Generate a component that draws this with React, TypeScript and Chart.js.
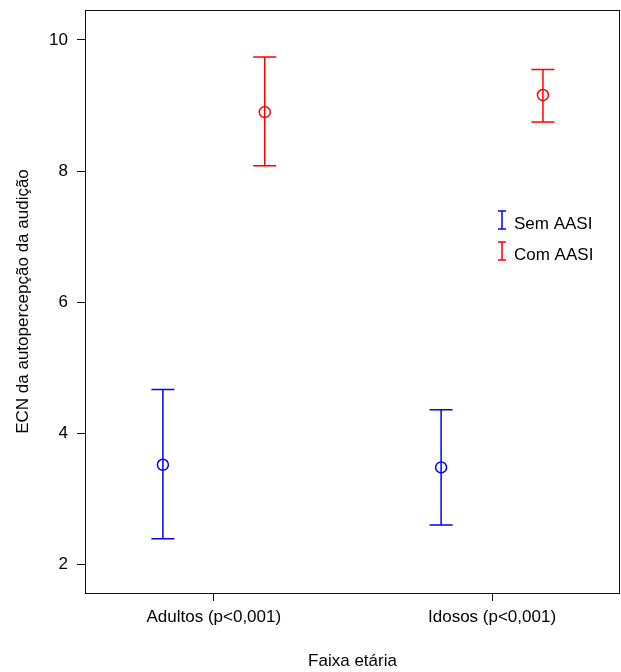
import React, { useEffect, useRef } from 'react';
import { Chart, registerables } from 'chart.js';

Chart.register(...registerables);

const categories = ['Adultos (p<0,001)', 'Idosos (p<0,001)'];
const seriesNames = ['Sem AASI', 'Com AASI'];
const semMean = [3.52, 3.48];
const semLow = [2.39, 2.6];
const semHigh = [4.67, 4.36];
const comMean = [8.9, 9.16];
const comLow = [8.08, 8.75];
const comHigh = [9.74, 9.55];
const yTicks = [2, 4, 6, 8, 10];
const yTitle = 'ECN da autopercepção da audição';
const xTitle = 'Faixa etária';

const BLUE = '#0000ff';
const RED = '#ff0000';
const FONT = "'Liberation Sans', Arial, sans-serif";
const GROUP_OFFSET = 0.183;
const CAP = 11.5;

const errorBarPlugin = {
  id: 'errorBars',
  beforeDatasetsDraw(chart: any) {
    const ctx = chart.ctx;
    const ys = chart.scales.y;
    chart.data.datasets.forEach((ds: any, di: number) => {
      const meta = chart.getDatasetMeta(di);
      ctx.save();
      ctx.strokeStyle = ds.borderColor;
      ctx.lineWidth = 1.5;
      meta.data.forEach((pt: any, i: number) => {
        const d = ds.data[i];
        const x = pt.x;
        const yl = ys.getPixelForValue(d.low);
        const yh = ys.getPixelForValue(d.high);
        ctx.beginPath();
        ctx.moveTo(x, yh);
        ctx.lineTo(x, yl);
        ctx.moveTo(x - CAP, yh);
        ctx.lineTo(x + CAP, yh);
        ctx.moveTo(x - CAP, yl);
        ctx.lineTo(x + CAP, yl);
        ctx.stroke();
      });
      ctx.restore();
    });
  },
  afterDraw(chart: any) {
    const ctx = chart.ctx;
    const a = chart.chartArea;
    ctx.save();
    ctx.strokeStyle = '#111';
    ctx.lineWidth = 1;
    ctx.strokeRect(Math.round(a.left) + 0.5, Math.round(a.top) + 0.5, Math.round(a.right - a.left) - 1, Math.round(a.bottom - a.top));
    // legend
    const iconX = a.left + 417;
    const textX = a.left + 429;
    const baselines = [a.top + 219, a.top + 250];
    ctx.font = `17px ${FONT}`;
    ctx.textBaseline = 'alphabetic';
    ctx.textAlign = 'left';
    chart.data.datasets.forEach((ds: any, di: number) => {
      const b = baselines[di];
      const t = b - 18;
      ctx.strokeStyle = ds.borderColor;
      ctx.lineWidth = 1.5;
      ctx.beginPath();
      ctx.moveTo(iconX, t);
      ctx.lineTo(iconX, b);
      ctx.moveTo(iconX - 4, t);
      ctx.lineTo(iconX + 4, t);
      ctx.moveTo(iconX - 4, b);
      ctx.lineTo(iconX + 4, b);
      ctx.stroke();
      ctx.fillStyle = '#000';
      ctx.fillText(ds.label, textX, b);
    });
    ctx.restore();
  },
};

function makeData(mean: number[], low: number[], high: number[], sign: number) {
  return categories.map((_, i) => ({
    x: i + 1 + sign * GROUP_OFFSET,
    y: mean[i],
    low: low[i],
    high: high[i],
  }));
}

export default function App() {
  const ref = useRef<HTMLCanvasElement | null>(null);
  useEffect(() => {
    if (!ref.current) return;
    const chart = new Chart(ref.current, {
      type: 'scatter',
      data: {
        datasets: [
          {
            label: seriesNames[0],
            data: makeData(semMean, semLow, semHigh, -1) as any,
            borderColor: BLUE,
            backgroundColor: 'rgba(0,0,0,0)',
            pointRadius: 5.5,
            pointHoverRadius: 5.5,
            pointBorderWidth: 1.5,
          },
          {
            label: seriesNames[1],
            data: makeData(comMean, comLow, comHigh, 1) as any,
            borderColor: RED,
            backgroundColor: 'rgba(0,0,0,0)',
            pointRadius: 5.5,
            pointHoverRadius: 5.5,
            pointBorderWidth: 1.5,
          },
        ],
      },
      options: {
        animation: false,
        responsive: false,
        devicePixelRatio: 1,
        layout: { autoPadding: false, padding: { top: 10, right: 1, left: 0, bottom: 0 } },
        plugins: { legend: { display: false }, tooltip: { enabled: false } },
        scales: {
          x: {
            type: 'linear',
            min: 0.537,
            max: 2.46,
            afterBuildTicks: (s: any) => {
              s.ticks = categories.map((_, i) => ({ value: i + 1 }));
            },
            afterFit: (s: any) => {
              s.height = 79;
              s.paddingLeft = 0;
              s.paddingRight = 0;
            },
            grid: { drawOnChartArea: false, drawTicks: true, tickLength: 8, color: '#111', lineWidth: 1 },
            border: { display: false },
            ticks: {
              color: '#000',
              padding: 6,
              font: { family: FONT, size: 17 },
              maxRotation: 0,
              autoSkip: false,
              callback: (v: any) => categories[Math.round(Number(v)) - 1] ?? '',
            },
            title: {
              display: true,
              text: xTitle,
              color: '#000',
              font: { family: FONT, size: 17 },
              padding: { top: 0, bottom: 0 },
            },
          },
          y: {
            type: 'linear',
            min: 1.564,
            max: 10.457,
            afterBuildTicks: (s: any) => {
              s.ticks = yTicks.map((v) => ({ value: v }));
            },
            afterFit: (s: any) => {
              s.width = 85;
              s.paddingTop = 0;
              s.paddingBottom = 0;
            },
            grid: { drawOnChartArea: false, drawTicks: true, tickLength: 8, color: '#111', lineWidth: 1 },
            border: { display: false },
            ticks: {
              color: '#000',
              padding: 9,
              font: { family: FONT, size: 17 },
              callback: (v: any) => String(v),
            },
            title: {
              display: true,
              text: yTitle,
              color: '#000',
              font: { family: FONT, size: 17 },
              padding: { top: 13, bottom: 0 },
            },
          },
        },
      },
      plugins: [errorBarPlugin],
    });
    return () => chart.destroy();
  }, []);
  return (
    <div style={{ position: 'absolute', left: 0, top: 0, width: 621, height: 672, background: '#fff' }}>
      <canvas ref={ref} width={621} height={672} style={{ display: 'block' }} />
    </div>
  );
}
